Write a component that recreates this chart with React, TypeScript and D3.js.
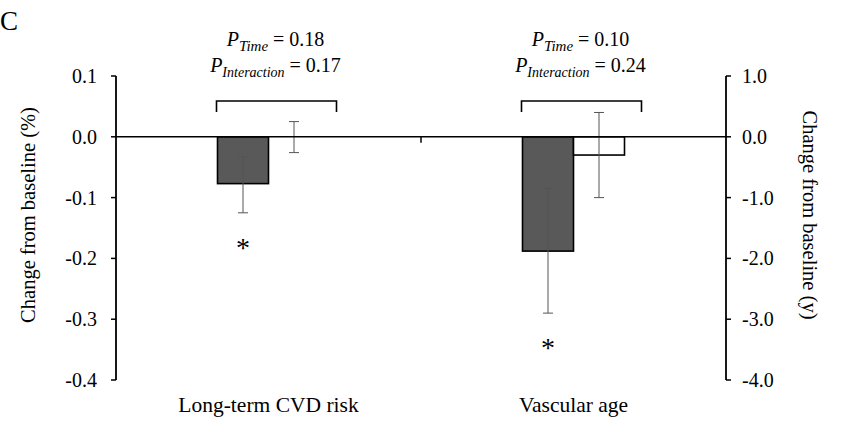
import React from "react";
import * as d3 from "d3";

const categories = ["Long-term CVD risk", "Vascular age"];
const seriesNames = ["Intervention", "Control"];
const seriesFill = ["#595959", "#ffffff"];
// values per category; first category on left axis (%), second on right axis (y)
const interventionMean = [-0.077, -1.88];
const interventionLow = [-0.125, -2.9];
const interventionHigh = [-0.033, -0.85];
const controlMean = [0.0, -0.3];
const controlLow = [-0.026, -1.0];
const controlHigh = [0.025, 0.4];
const interventionSignificant = [true, true];
const pTime = ["0.18", "0.10"];
const pInteraction = ["0.17", "0.24"];
const leftTicks = [0.1, 0.0, -0.1, -0.2, -0.3, -0.4];
const rightTicks = [1.0, 0.0, -1.0, -2.0, -3.0, -4.0];

const W = 841;
const H = 435;
const FONT = '"Liberation Serif", "Times New Roman", Times, serif';

export default function App() {
  const x0 = 116;
  const x1 = 726;
  const yTop = 76;
  const yBot = 380;
  const yL = d3.scaleLinear().domain([-0.4, 0.1]).range([yBot, yTop]);
  const yR = d3.scaleLinear().domain([-4, 1]).range([yBot, yTop]);
  const scales = [yL, yR];
  const xBand = d3.scaleBand().domain(categories).range([x0, x1]).padding(0);
  const groupW = 102;
  const xInner = d3.scaleBand().domain(seriesNames).range([0, groupW]).padding(0);

  const series = [
    { mean: interventionMean, low: interventionLow, high: interventionHigh },
    { mean: controlMean, low: controlLow, high: controlHigh },
  ];

  const f = d3.format(".1f");
  const fmt1 = (v: number) => f(v).replace("\u2212", "-");

  return (
    <svg
      width={W}
      height={H}
      style={{ position: "absolute", left: 0, top: 0, background: "#fff", fontFamily: FONT }}
    >
      <rect x={0} y={0} width={W} height={H} fill="#fff" />
      <text x={0} y={30} fontSize={27}>C</text>

      {/* left axis */}
      <line x1={x0} x2={x0} y1={yL(0.1)} y2={yL(-0.4)} stroke="#000" strokeWidth={1.8} />
      {leftTicks.map((t) => (
        <g key={"l" + t}>
          <line x1={x0 - 5} x2={x0} y1={yL(t)} y2={yL(t)} stroke="#000" strokeWidth={1.5} />
          <text x={x0 - 19} y={yL(t)} fontSize={20} textAnchor="end" dominantBaseline="central">
            {fmt1(t)}
          </text>
        </g>
      ))}
      {/* right axis */}
      <line x1={x1} x2={x1} y1={yR(1)} y2={yR(-4)} stroke="#000" strokeWidth={1.8} />
      {rightTicks.map((t) => (
        <g key={"r" + t}>
          <line x1={x1} x2={x1 + 5} y1={yR(t)} y2={yR(t)} stroke="#000" strokeWidth={1.5} />
          <text x={x1 + 16} y={yR(t)} fontSize={20} textAnchor="start" dominantBaseline="central">
            {fmt1(t)}
          </text>
        </g>
      ))}

      {/* axis titles */}
      <text
        transform={`translate(35,${(yTop + yBot) / 2 - 13}) rotate(-90)`}
        fontSize={20.5}
        textAnchor="middle"
      >
        Change from baseline (%)
      </text>
      <text
        transform={`translate(803,${(yTop + yBot) / 2 - 13}) rotate(90)`}
        fontSize={20.5}
        textAnchor="middle"
      >
        Change from baseline (y)
      </text>

      {/* bars */}
      {categories.map((c, ci) => {
        const y = scales[ci];
        const gx = (xBand(c) as number) + xBand.bandwidth() / 2 - groupW / 2;
        return (
          <g key={c}>
            {series.map((s, si) => {
              const bx = gx + (xInner(seriesNames[si]) as number);
              const bw = xInner.bandwidth();
              const v = s.mean[ci];
              const top = Math.min(y(v), y(0));
              const h = Math.abs(y(v) - y(0));
              const cx = bx + bw / 2;
              return (
                <g key={si}>
                  {h > 0.5 && (
                    <rect x={bx} y={top} width={bw} height={h} fill={seriesFill[si]} stroke="#000" strokeWidth={1.6} />
                  )}
                  <g stroke="#555" strokeWidth={1}>
                    <line x1={cx} x2={cx} y1={y(s.high[ci])} y2={y(s.low[ci])} />
                    <line x1={cx - 5} x2={cx + 5} y1={y(s.high[ci])} y2={y(s.high[ci])} />
                    <line x1={cx - 5} x2={cx + 5} y1={y(s.low[ci])} y2={y(s.low[ci])} />
                  </g>
                  {si === 0 && interventionSignificant[ci] && (
                    <text x={cx} y={y(s.low[ci]) + 44} fontSize={28} textAnchor="middle" fill="#000">*</text>
                  )}
                </g>
              );
            })}
          </g>
        );
      })}

      {/* zero line and separators */}
      <line x1={x0} x2={x1} y1={yL(0)} y2={yL(0)} stroke="#000" strokeWidth={1.5} />
      {categories.slice(1).map((c) => (
        <line key={"sep" + c} x1={xBand(c) as number} x2={xBand(c) as number} y1={yL(0)} y2={yL(0) + 6} stroke="#000" strokeWidth={1.5} />
      ))}

      {/* brackets and annotations */}
      {categories.map((c, ci) => {
        const cx = (xBand(c) as number) + xBand.bandwidth() / 2;
        const bl = cx - 52;
        const br = cx + 68;
        const bt = 101;
        const bb = 112;
        const tx = cx + 7;
        return (
          <g key={"ann" + c}>
            <path d={`M${bl},${bb}V${bt}H${br}V${bb}`} fill="none" stroke="#000" strokeWidth={1.6} />
            <text x={tx} y={46} fontSize={20} textAnchor="middle">
              <tspan fontStyle="italic">P</tspan>
              <tspan fontStyle="italic" fontSize={15} dy={5}>Time</tspan>
              <tspan dy={-5}> = {pTime[ci]}</tspan>
            </text>
            <text x={tx} y={72} fontSize={20} textAnchor="middle">
              <tspan fontStyle="italic">P</tspan>
              <tspan fontStyle="italic" fontSize={14} dy={5}>Interaction</tspan>
              <tspan dy={-5}> = {pInteraction[ci]}</tspan>
            </text>
            <text x={cx} y={412} fontSize={21.5} textAnchor="middle">{c}</text>
          </g>
        );
      })}
    </svg>
  );
}
